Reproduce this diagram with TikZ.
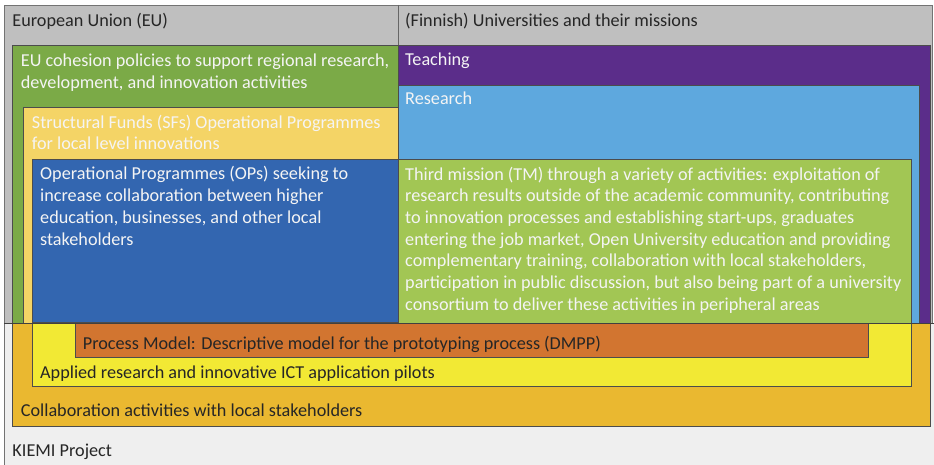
\documentclass[tikz,border=0pt]{standalone}
\usepackage{fontspec}
\setmainfont{Carlito}
\definecolor{euGray}{HTML}{BFBFBF}
\definecolor{kiemiGray}{HTML}{EFEFEF}
\definecolor{cohGreen}{HTML}{7BAA47}
\definecolor{sfYellow}{HTML}{F4D466}
\definecolor{opBlue}{HTML}{3366B0}
\definecolor{teachPurple}{HTML}{5B2D8A}
\definecolor{resBlue}{HTML}{5EA8DE}
\definecolor{tmGreen}{HTML}{A2C654}
\definecolor{collabGold}{HTML}{EAB830}
\definecolor{pilotYellow}{HTML}{F2E934}
\definecolor{dmppOrange}{HTML}{D27530}
\definecolor{darkText}{HTML}{262626}
\definecolor{lightText}{HTML}{F4F4F4}
\tikzset{
  panel/.style={draw=black!70, line width=0.7pt},
  % multi-line labels are anchored at the baseline of their last line
  lbl/.style={anchor=base west, inner sep=0pt, font=\fontsize{18.2}{21.7}\selectfont, align=left},
  lightlbl/.style={lbl, text=lightText},
  darklbl/.style={lbl, text=darkText},
}
\begin{document}
\begin{tikzpicture}[x=1pt, y=-1pt]
\useasboundingbox (0,0) rectangle (934,465);
\fill[white] (0,0) rectangle (934,465);
% outer frames
\path[panel, draw=black!55, fill=kiemiGray] (4,323) rectangle (940,470);
\path[panel, draw=black!55, fill=euGray] (4,5) rectangle (932,323);
% KIEMI project layers
\path[panel, fill=collabGold] (12,323) rectangle (930,426);
\path[panel, fill=pilotYellow] (32,323) rectangle (911,386);
\path[panel, fill=dmppOrange] (75,323) rectangle (868,357);
% EU layers
\path[panel, fill=cohGreen] (12,45) rectangle (398,323);
\path[panel, fill=sfYellow] (23,107) rectangle (398,323);
\path[panel, fill=opBlue] (32,159) rectangle (398,322);
% university missions
\path[panel, fill=teachPurple] (398,45) rectangle (930,323);
\path[panel, fill=resBlue] (398,85) rectangle (919,323);
\path[panel, fill=tmGreen] (398,159) rectangle (911,323);
% dividers
\draw[black!75, line width=0.7pt] (4,323) -- (934,323);
\draw[black!60, line width=0.7pt] (398,5) -- (398,45);
% labels
\node[darklbl] (eu) at (12.3,26.5) {European Union (EU)};
\node[darklbl] (uni) at (405,26.5) {(Finnish) Universities and their missions};
\node[lightlbl] (coh) at (20.7,88.4) {EU cohesion policies to support regional research,\\development, and innovation activities};
\node[lightlbl] (sf) at (31.7,150) {Structural Funds (SFs) Operational Programmes\\for local level innovations};
\node[lightlbl] (op) at (40,245.1) {Operational Programmes (OPs) seeking to\\increase collaboration between higher\\education, businesses, and other local\\stakeholders};
\node[lightlbl] (teach) at (405,65.7) {Teaching};
\node[lightlbl] (res) at (405,105) {Research};
\node[lightlbl] (tm) at (405,310.2) {Third mission (TM) through a variety of activities: exploitation of\\research results outside of the academic community, contributing\\to innovation processes and establishing start-ups, graduates\\entering the job market, Open University education and providing\\complementary training, collaboration with local stakeholders,\\participation in public discussion, but also being part of a university\\consortium to deliver these activities in peripheral areas};
\node[darklbl] (dmpp) at (82.7,349.3) {Process Model: Descriptive model for the prototyping process (DMPP)};
\node[darklbl] (pilot) at (40,378.3) {Applied research and innovative ICT application pilots};
\node[darklbl] (collab) at (20.7,416.7) {Collaboration activities with local stakeholders};
\node[darklbl] (kiemi) at (12.3,456.7) {KIEMI Project};
\end{tikzpicture}
\end{document}
